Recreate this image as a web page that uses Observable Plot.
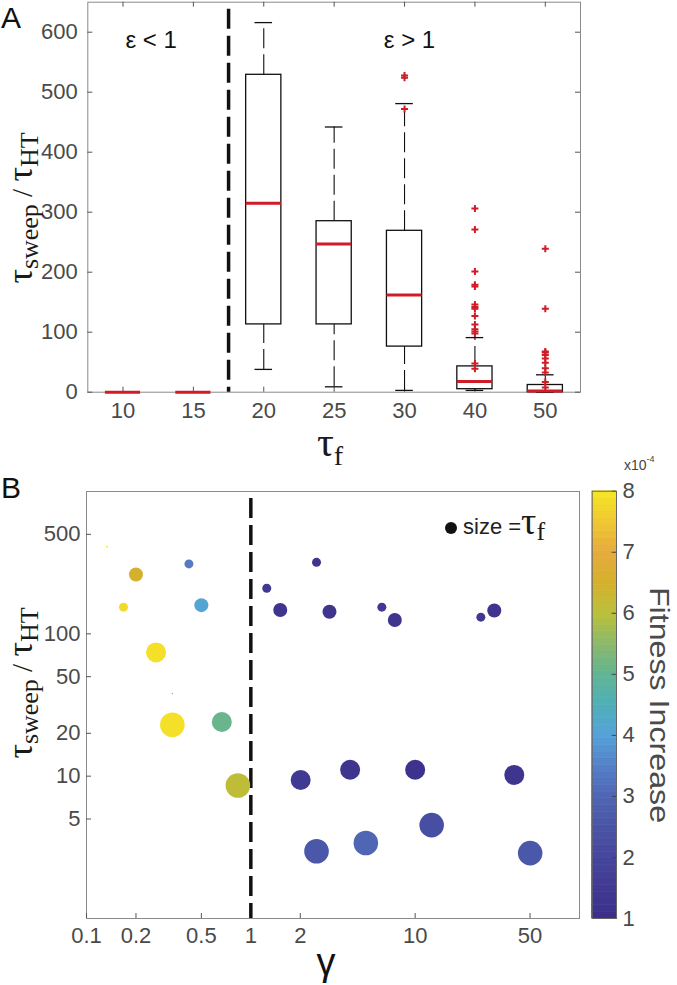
<!DOCTYPE html>
<html><head><meta charset="utf-8">
<script src="https://cdn.jsdelivr.net/npm/d3@7"></script>
<script src="https://cdn.jsdelivr.net/npm/@observablehq/plot@0.6"></script>
<style>
body{margin:0;background:#fff;}
#wrap{position:relative;width:677px;height:985px;overflow:hidden;font-family:"Liberation Sans",Arial,sans-serif;background:#fff;}
.abs{position:absolute;}
.serif{font-family:"Liberation Serif","DejaVu Serif",serif;color:#1a1a1a;white-space:nowrap;line-height:1;}
.rot{transform:translate(-50%,-50%) rotate(-90deg);}
.ctr{transform:translate(-50%,-50%);}
</style></head><body>
<div id="wrap">
  <div id="panelA" class="abs" style="left:0;top:0"></div>
  <div id="panelB" class="abs" style="left:0;top:470px"></div>
  <div id="cbar" class="abs" style="left:580px;top:470px"></div>
</div>
<script>
// ---------- Panel A data ----------
const categories = ["10", "15", "20", "25", "30", "40", "50"];
const boxQ1 = [0, 0, 113, 113, 76, 5, 0];
const boxMedian = [0, 0, 315, 247, 162, 18, 2];
const boxQ3 = [0, 0, 529, 285, 269, 43, 12];
const whiskerLow = [0, 0, 38, 9, 3, 3, 0];
const whiskerHigh = [0, 0, 616, 442, 481, 91, 29];
const outlierCategory = ["30", "30", "30",
  "40", "40", "40", "40", "40", "40", "40", "40", "40", "40", "40", "40", "40", "40", "40",
  "50", "50", "50", "50", "50", "50", "50", "50", "50", "50", "50"];
const outlierValue = [528, 524, 472,
  306, 271, 201, 179, 176, 146, 142, 139, 127, 113, 105, 101, 98, 48, 39,
  239, 139, 68, 66, 62, 56, 49, 40, 33, 17, 8];
const yTicksA = [0, 100, 200, 300, 400, 500, 600];
const regionLabels = ["ε < 1", "ε > 1"];
const regionLabelPos = [0.4, 4.07];

// ---------- Panel B data ----------
const gammaValues = [0.133, 0.2, 0.42, 0.168, 0.5, 0.265, 0.333, 0.333, 0.666, 0.834,
  1.25, 1.51, 2.51, 3.01, 6.27, 7.52, 25.1, 30.3, 2.01, 4.02, 10.0, 40.1, 2.51, 5.01, 12.6, 50.1];
const sweepRatio = [410, 261, 310, 154, 159, 74, 38, 23, 24, 8.6,
  209, 147, 318, 143, 154, 125, 131, 146, 9.4, 11.1, 11.1, 10.2, 2.97, 3.39, 4.53, 2.88];
const tauF = [15, 30, 20, 20, 30, 40, 10, 50, 40, 50,
  20, 30, 20, 30, 20, 30, 20, 30, 40, 40, 40, 40, 50, 50, 50, 50];
const fitnessIncrease = [7.8, 6.5, 3.4, 7.8, 4.1, 7.9, 4.5, 7.9, 5.1, 6.1,
  1.4, 1.3, 1.3, 1.3, 1.4, 1.3, 1.4, 1.3, 1.5, 1.3, 1.2, 1.3, 2.6, 3.0, 2.3, 2.6];
const xTicksB = [0.1, 0.2, 0.5, 1, 2, 10, 50];
const yTicksB = [5, 10, 20, 50, 100, 500];
const colorbarTicks = [1, 2, 3, 4, 5, 6, 7, 8];
const colorStops = [1, 1.5, 2, 2.5, 3, 3.5, 4, 4.5, 5, 5.5, 6, 6.5, 7, 7.5, 8];
const colorValues = ["#3b2e8a", "#413a93", "#46469c", "#4a55a6", "#4f66b4", "#5580c8", "#55a2d8",
  "#4fb0b8", "#62b494", "#8cb96a", "#bac03a", "#d5b02c", "#e6ab3c", "#efc832", "#f5e625"];

const RED = "#d01c26";
const INK = "#111";
const TICK = "#555";
const LABEL = "#4a4a4a";
const FONT = "'Liberation Sans', Arial, sans-serif";
const baseStyle = {fontFamily: FONT, fontSize: "22px", color: LABEL, background: "transparent", overflow: "visible"};

// ---------- Panel A ----------
const W = 677;
const HA = 470, mlA = 87.3, mrA = 97, mtA = 1.7, mbA = 78.3;
const fwA = W - mlA - mrA, fhA = HA - mtA - mbA;
const boxes = categories.map((c, i) => ({i, q1: boxQ1[i], med: boxMedian[i], q3: boxQ3[i], lo: whiskerLow[i], hi: whiskerHigh[i]}));
const outliers = outlierCategory.map((c, k) => ({i: categories.indexOf(c), v: outlierValue[k]}));
const catIdx = categories.map((c, i) => i);
const half = 0.25, capHalf = 0.125;

const plotA = Plot.plot({
  width: W, height: HA,
  marginLeft: mlA, marginRight: mrA, marginTop: mtA, marginBottom: mbA,
  x: {domain: [-0.5, categories.length - 0.5]},
  y: {domain: [0, 650]},
  style: baseStyle,
  marks: [
    Plot.frame({stroke: "#8a8a8a"}),
    Plot.tickX(catIdx, {x: d => d, insetTop: fhA - 5, stroke: TICK}),
    Plot.tickX(catIdx, {x: d => d, insetBottom: fhA - 5, stroke: TICK}),
    Plot.tickY(yTicksA, {y: d => d, insetRight: fwA - 5, stroke: TICK}),
    Plot.tickY(yTicksA, {y: d => d, insetLeft: fwA - 5, stroke: TICK}),
    Plot.ruleX(boxes, {x: "i", y1: "q3", y2: "hi", stroke: INK, strokeWidth: 1.1, strokeDasharray: "20,6"}),
    Plot.ruleX(boxes, {x: "i", y1: "lo", y2: "q1", stroke: INK, strokeWidth: 1.1, strokeDasharray: "20,6"}),
    Plot.ruleY(boxes, {y: "hi", x1: d => d.i - capHalf, x2: d => d.i + capHalf, stroke: INK, strokeWidth: 1.3}),
    Plot.ruleY(boxes, {y: "lo", x1: d => d.i - capHalf, x2: d => d.i + capHalf, stroke: INK, strokeWidth: 1.3}),
    Plot.rect(boxes, {x1: d => d.i - half, x2: d => d.i + half, y1: "q1", y2: "q3", fill: "white", stroke: INK, strokeWidth: 1.3}),
    Plot.ruleY(boxes, {y: "med", x1: d => d.i - half, x2: d => d.i + half, stroke: RED, strokeWidth: 3}),
    Plot.dot(outliers, {x: "i", y: "v", symbol: "plus", r: 2.4, stroke: RED, strokeWidth: 2}),
    Plot.ruleX([1.5], {stroke: INK, strokeWidth: 3.5, strokeDasharray: "20,7", strokeDashoffset: 20}),
    Plot.text(regionLabels, {x: (d, k) => regionLabelPos[k], text: d => d, frameAnchor: "top", dy: 29, fontSize: 24, fill: INK}),
    Plot.axisX({ticks: catIdx, tickFormat: i => categories[i], tickSize: 0, tickPadding: 10, label: null}),
    Plot.axisY({ticks: yTicksA, tickSize: 0, tickPadding: 10, label: null})
  ]
});
document.getElementById("panelA").appendChild(plotA);

// ---------- Panel B ----------
const HB = 515, mlB = 86, mrB = 98, mtB = 21, mbB = 67;
const fwB = W - mlB - mrB, fhB = HB - mtB - mbB;
const points = gammaValues.map((g, k) => ({g, ratio: sweepRatio[k], tau: tauF[k], fit: fitnessIncrease[k]}));
const colorScale = {type: "linear", domain: colorStops, range: colorValues, clamp: true};

const plotB = Plot.plot({
  width: W, height: HB,
  marginLeft: mlB, marginRight: mrB, marginTop: mtB, marginBottom: mbB,
  x: {type: "log", domain: [0.1, 100], axis: null},
  y: {type: "log", domain: [1, 1000], axis: null},
  r: {type: "linear", domain: [10, 15, 20, 30, 40, 50], range: [0.7, 0.9, 4.5, 7, 10, 12.3]},
  color: colorScale,
  style: baseStyle,
  marks: [
    Plot.frame({stroke: "#8a8a8a"}),
    Plot.tickX(xTicksB, {x: d => d, insetTop: fhB - 5, stroke: TICK}),
    Plot.tickY(yTicksB, {y: d => d, insetRight: fwB - 5, stroke: TICK}),
    Plot.ruleX([1], {stroke: INK, strokeWidth: 3.5, strokeDasharray: "20,7", strokeDashoffset: 20}),
    Plot.dot(points, {x: "g", y: "ratio", r: "tau", fill: "fit"}),
    Plot.text(xTicksB, {x: d => d, text: d => String(d), frameAnchor: "bottom", lineAnchor: "top", dy: 9, fontSize: 22, fill: LABEL}),
    Plot.text(yTicksB, {y: d => d, text: d => String(d), frameAnchor: "left", textAnchor: "end", dx: -6, fontSize: 22, fill: LABEL})
  ]
});
document.getElementById("panelB").appendChild(plotB);

// ---------- Colorbar ----------
const nBands = 64;
const bandStep = (colorStops[colorStops.length - 1] - colorStops[0]) / nBands;
const bands = d3.range(nBands).map(k => colorStops[0] + k * bandStep);
const cb = Plot.plot({
  width: 97, height: HB,
  marginLeft: 11.7, marginRight: 61, marginTop: 20.7, marginBottom: 67,
  x: {domain: [0, 1], axis: null},
  y: {domain: [colorStops[0], colorStops[colorStops.length - 1]], axis: null},
  color: colorScale,
  style: baseStyle,
  marks: [
    Plot.rect(bands, {x1: 0, x2: 1, y1: d => d, y2: d => d + bandStep, fill: d => d + bandStep / 2, stroke: d => d + bandStep / 2, strokeWidth: 0.6}),
    Plot.tickY(colorbarTicks, {y: d => d, insetLeft: 20, stroke: "#444"}),
    Plot.frame({stroke: "#666"}),
    Plot.text(colorbarTicks, {y: d => d, text: d => String(d), frameAnchor: "right", textAnchor: "start", dx: 6, fontSize: 22, fill: LABEL})
  ]
});
document.getElementById("cbar").appendChild(cb);

// ---------- Text overlays ----------
const wrap = document.getElementById("wrap");
function addHTML(html, style, cls) {
  const el = document.createElement("div");
  el.className = "abs " + (cls || "");
  el.setAttribute("style", style);
  el.innerHTML = html;
  wrap.appendChild(el);
  return el;
}
const ylab = '<span style="font-size:36px">τ</span><span style="font-size:26px;position:relative;top:6px">sweep</span>' +
  '<span style="font-size:29px"> / </span><span style="font-size:36px">τ</span><span style="font-size:26px;position:relative;top:6px">HT</span>';
addHTML(ylab, "left:20px;top:208px;", "serif rot");
addHTML(ylab, "left:20px;top:683px;", "serif rot");
addHTML('<span style="font-size:42px">τ</span><span style="font-size:28px;position:relative;top:9px">f</span>', "left:330px;top:442px;", "serif ctr");
addHTML('γ', "left:326px;top:962px;font-size:38px;color:#111;line-height:1;", "ctr");
addHTML('A', "left:1px;top:1px;font-size:30px;color:#111;line-height:1.15;");
addHTML('B', "left:1px;top:471px;font-size:30px;color:#111;line-height:1.15;");
addHTML('x10<sup style="font-size:9px;position:relative;top:-2px">-4</sup>', "left:624px;top:457px;font-size:14px;color:#444;line-height:1;");
addHTML('Fitness Increase', "left:659px;top:705px;font-size:28px;color:#4a4a4a;white-space:nowrap;line-height:1;transform:translate(-50%,-50%) rotate(90deg) scaleX(1.15);");
// size legend
addHTML('<span style="display:inline-block;width:12px;height:12px;border-radius:6px;background:#111;vertical-align:middle;margin-right:6px;position:relative;top:-2px"></span>' +
  '<span style="font-size:22px;color:#222;font-family:\'Liberation Sans\',Arial,sans-serif">size =</span>' +
  '<span class="serif" style="font-size:38px">τ</span><span class="serif" style="font-size:26px;position:relative;top:6px">f</span>',
  "left:445px;top:502px;white-space:nowrap;line-height:1;");
</script>
</body></html>
